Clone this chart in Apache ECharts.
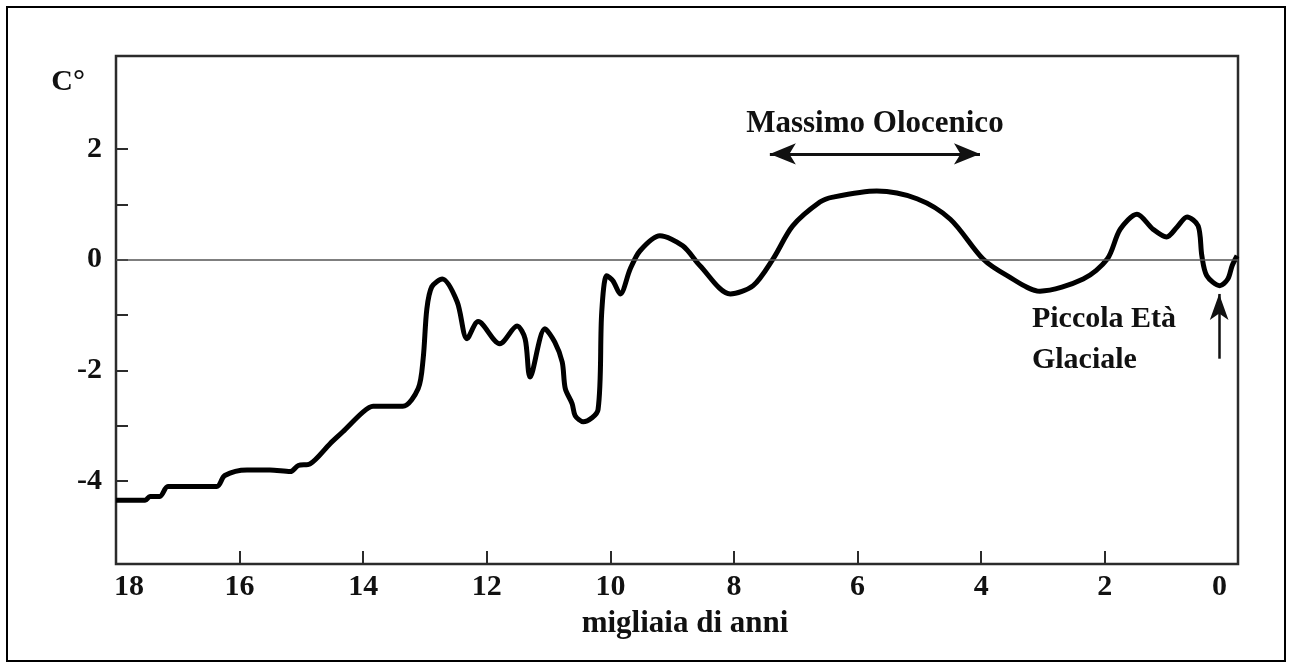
<!DOCTYPE html>
<html>
<head>
<meta charset="utf-8">
<title>Temperatura - ultimi 18000 anni</title>
<script src="https://cdn.jsdelivr.net/npm/echarts@6.0.0/dist/echarts.min.js"></script>
<style>
  html, body { margin: 0; padding: 0; background: #fff; }
  #chart { width: 1293px; height: 662px; }
</style>
</head>
<body>
<div id="chart"></div>
<script>
// migliaia di anni fa (asse x invertito) e anomalia di temperatura in C°
var ages = [18.00, 17.53, 17.45, 17.29, 17.16, 16.37, 16.24, 15.88, 15.51, 15.18,
  15.05, 14.86, 14.54, 14.33, 14.00, 13.84, 13.36, 13.11, 13.03, 12.97,
  12.89, 12.72, 12.48, 12.32, 12.14, 11.79, 11.51, 11.38, 11.30, 11.06,
  10.90, 10.78, 10.73, 10.62, 10.57, 10.44, 10.20, 10.14, 10.06, 9.96,
  9.84, 9.68, 9.52, 9.20, 8.83, 8.55, 8.06, 7.69, 7.37, 7.05,
  6.61, 6.40, 5.69, 5.04, 4.50, 3.97, 3.58, 3.05, 2.35, 1.96,
  1.75, 1.48, 1.22, 1.00, 0.83, 0.67, 0.49, 0.43, 0.35, 0.14,
  0.01, -0.06, -0.14];
var temps = [-4.35, -4.35, -4.28, -4.28, -4.10, -4.10, -3.90, -3.80, -3.80, -3.83,
  -3.72, -3.69, -3.33, -3.11, -2.75, -2.65, -2.65, -2.33, -1.79, -0.89,
  -0.49, -0.35, -0.76, -1.43, -1.12, -1.52, -1.20, -1.43, -2.12, -1.25,
  -1.49, -1.85, -2.33, -2.60, -2.82, -2.93, -2.71, -0.94, -0.29, -0.38,
  -0.62, -0.17, 0.16, 0.43, 0.25, -0.11, -0.62, -0.47, 0.01, 0.61,
  1.04, 1.13, 1.24, 1.10, 0.73, 0.01, -0.29, -0.57, -0.35, 0.01,
  0.55, 0.82, 0.55, 0.41, 0.59, 0.77, 0.61, 0.07, -0.29, -0.47,
  -0.35, -0.11, 0.07];

// etichette e tacche degli assi
var xLabels = [18, 16, 14, 12, 10, 8, 6, 4, 2, 0];
var xTicks = [16, 14, 12, 10, 8, 6, 4, 2];
var yLabels = [2, 0, -2, -4];
var yTicks = [2, 1, 0, -1, -2, -3, -4];

// annotazioni
var holoceneStart = [7.42, 1.91];
var holoceneEnd = [4.02, 1.91];
var liaArrowFrom = [0.15, -1.79];
var liaArrowTo = [0.15, -0.62];
var liaText = [3.26, -1.44];

var font = 'Liberation Serif';
var ink = '#111';

var points = ages.map(function (a, i) { return [a, temps[i]]; });

var myChart = echarts.init(document.getElementById('chart'));
var option = {
  animation: false,
  grid: {
    left: 116, right: 55, top: 56, bottom: 98,
    show: true, borderColor: '#2b2b2b', borderWidth: 2.5
  },
  graphic: [{
    type: 'rect',
    shape: { x: 7, y: 7, width: 1278, height: 654 },
    style: { fill: 'none', stroke: '#000', lineWidth: 2 },
    silent: true
  }],
  xAxis: {
    type: 'value',
    inverse: true,
    min: -0.155,
    max: 18,
    name: 'migliaia di anni',
    nameLocation: 'middle',
    nameGap: 44,
    nameTextStyle: { fontFamily: font, fontWeight: 'bold', fontSize: 31, color: ink, padding: [0, 0, 0, 16] },
    axisLine: { show: false, onZero: false },
    splitLine: { show: false },
    axisTick: { show: true, inside: true, length: 13, customValues: xTicks, lineStyle: { color: '#2b2b2b', width: 2 } },
    axisLabel: {
      customValues: xLabels,
      margin: 8,
      fontFamily: font, fontWeight: 'bold', fontSize: 30, color: ink,
      formatter: function (v) {
        if (v === 18) return '{a|18}';
        if (v === 0) return '{b|0}';
        return String(v);
      },
      rich: {
        a: { fontFamily: font, fontWeight: 'bold', fontSize: 30, color: ink, padding: [0, 0, 0, 26] },
        b: { fontFamily: font, fontWeight: 'bold', fontSize: 30, color: ink, padding: [0, 18, 0, 0] }
      }
    }
  },
  yAxis: {
    type: 'value',
    min: -5.5,
    max: 3.68,
    name: 'C°',
    nameLocation: 'end',
    nameGap: -26,
    nameTextStyle: { fontFamily: font, fontWeight: 'bold', fontSize: 30, color: ink, align: 'right', verticalAlign: 'middle', padding: [0, 31, 0, 0] },
    axisLine: { show: false, onZero: false },
    splitLine: { show: false },
    axisTick: { show: true, inside: true, length: 12, customValues: yTicks, lineStyle: { color: '#2b2b2b', width: 2 } },
    axisLabel: {
      customValues: yLabels,
      margin: 14,
      fontFamily: font, fontWeight: 'bold', fontSize: 30, color: ink
    }
  },
  series: [{
    type: 'line',
    data: points,
    smooth: 0.3,
    symbol: 'none',
    lineStyle: { color: '#000', width: 5 },
    z: 3,
    markLine: {
      silent: true,
      symbol: ['none', 'none'],
      data: [
        { yAxis: 0, lineStyle: { color: '#555', width: 1.5, type: 'solid' }, label: { show: false } },
        [
          {
            coord: holoceneStart, symbol: 'arrow', symbolSize: [16, 26],
            lineStyle: { color: '#111', width: 3, type: 'solid' },
            label: {
              show: true, position: 'middle', formatter: 'Massimo Olocenico', distance: 14,
              fontFamily: font, fontWeight: 'bold', fontSize: 31, color: ink
            }
          },
          { coord: holoceneEnd, symbol: 'arrow', symbolSize: [16, 26] }
        ],
        [
          {
            coord: liaArrowFrom, symbol: 'none',
            lineStyle: { color: '#111', width: 2.5, type: 'solid' },
            label: { show: false }
          },
          { coord: liaArrowTo, symbol: 'arrow', symbolSize: [14, 26] }
        ]
      ]
    },
    markPoint: {
      silent: true,
      symbol: 'circle',
      symbolSize: 0,
      data: [{
        coord: liaText,
        label: {
          show: true, position: 'right', distance: 5, align: 'left',
          formatter: 'Piccola Età\nGlaciale', lineHeight: 41,
          fontFamily: font, fontWeight: 'bold', fontSize: 30, color: ink
        }
      }]
    }
  }]
};
myChart.setOption(option);
window.addEventListener('resize', function () {
  myChart.resize();
});
</script>
</body>
</html>
